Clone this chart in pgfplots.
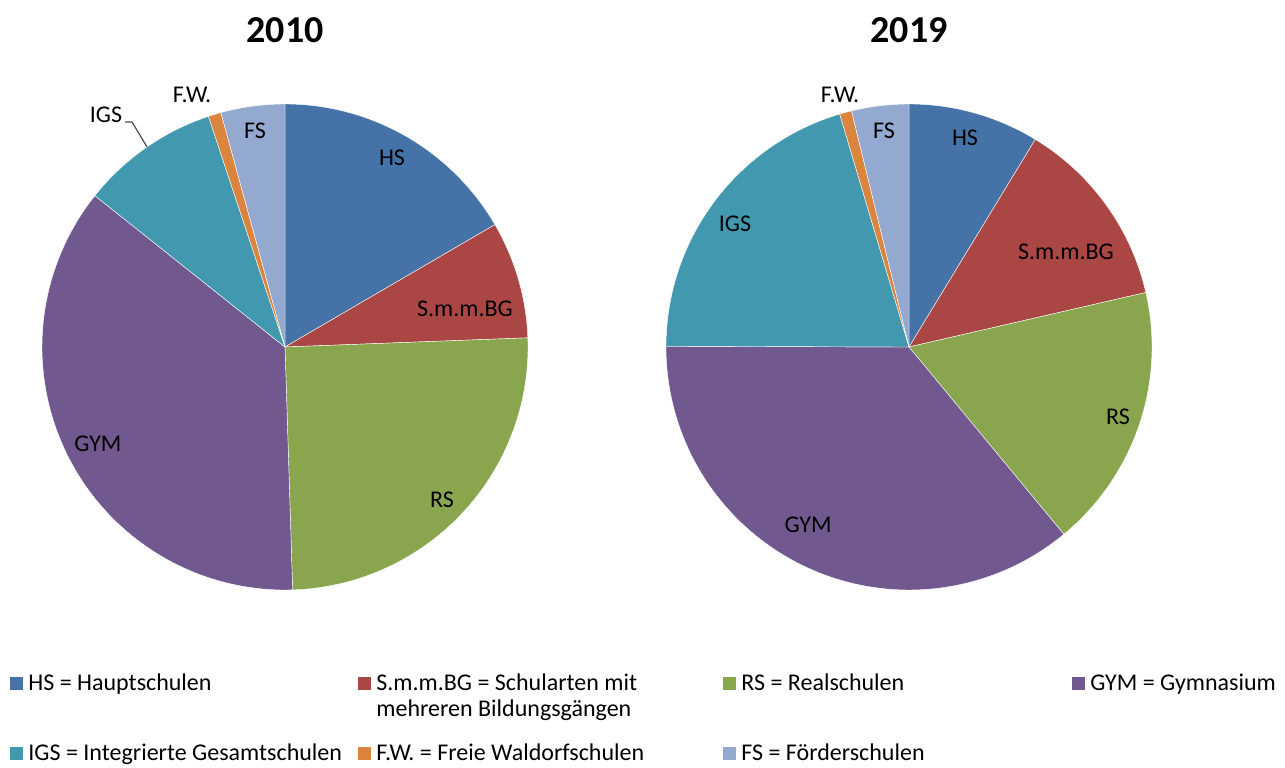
\documentclass[border=0pt]{standalone}
\usepackage{pgfplots}
\pgfplotsset{compat=1.18}
\usepackage{fontspec}
\setmainfont{Carlito}
\definecolor{cHS}{HTML}{4572A7}
\definecolor{cSM}{HTML}{AA4643}
\definecolor{cRS}{HTML}{89A54E}
\definecolor{cGY}{HTML}{71588F}
\definecolor{cIG}{HTML}{4198AF}
\definecolor{cFW}{HTML}{DB843D}
\definecolor{cFS}{HTML}{93A9CF}
% slice: centre x (px), start %, end % (cumulative, clockwise from 12 o'clock), colour
\newcommand{\pieslice}[4]{%
  \pgfmathsetmacro\angA{90-3.6*#3}%
  \pgfmathsetmacro\angB{90-3.6*#2}%
  \edef\doslice{\noexpand\addplot[draw=white, line width=0.2pt, fill=#4, domain=\angA:\angB, samples=90]
    ({#1+243*cos(x)}, {420+243*sin(x)}) -- (axis cs:#1,420) -- cycle;}%
  \doslice
}
\tikzset{lbl/.style={font=\fontsize{12}{14}\selectfont, text=black, inner sep=0pt},
         leg/.style={font=\fontsize{12}{14}\selectfont, text=black, inner sep=0pt, anchor=base west}}
\begin{document}
\begin{tikzpicture}
\begin{axis}[scale only axis, width=642.5pt, height=383.5pt,
  xmin=0, xmax=1285, ymin=0, ymax=767, hide axis, clip=false]
\path (axis cs:0,0) (axis cs:1285,767);
% 2010: HS 16.6, S.m.m.BG 7.8, RS 25.1, GYM 36.2, IGS 9.2, F.W. 0.85, FS 4.25
\pieslice{285}{0}{16.6}{cHS}
\pieslice{285}{16.6}{24.4}{cSM}
\pieslice{285}{24.4}{49.5}{cRS}
\pieslice{285}{49.5}{85.7}{cGY}
\pieslice{285}{85.7}{94.9}{cIG}
\pieslice{285}{94.9}{95.75}{cFW}
\pieslice{285}{95.75}{100}{cFS}
% 2019: HS 8.7, S.m.m.BG 12.7, RS 17.6, GYM 36.05, IGS 20.35, F.W. 0.8, FS 3.8
\pieslice{909}{0}{8.7}{cHS}
\pieslice{909}{8.7}{21.4}{cSM}
\pieslice{909}{21.4}{39.0}{cRS}
\pieslice{909}{39.0}{75.05}{cGY}
\pieslice{909}{75.05}{95.4}{cIG}
\pieslice{909}{95.4}{96.2}{cFW}
\pieslice{909}{96.2}{100}{cFS}
% titles
\node[font=\fontsize{19}{22}\selectfont\bfseries] at (axis cs:285,737) {2010};
\node[font=\fontsize{19}{22}\selectfont\bfseries] at (axis cs:909,737) {2019};
% labels 2010
\node[lbl] at (axis cs:392,609) {HS};
\node[lbl] at (axis cs:465,458) {S.m.m.BG};
\node[lbl] at (axis cs:442,267) {RS};
\node[lbl] at (axis cs:98,323) {GYM};
\node[lbl] at (axis cs:106,652) {IGS};
\node[lbl] at (axis cs:192,672) {F.W.};
\node[lbl] at (axis cs:255,636) {FS};
\draw[black!70, line width=0.6pt] (axis cs:125,645) -- (axis cs:132,645) -- (axis cs:147,620);
% labels 2019
\node[lbl] at (axis cs:965,629) {HS};
\node[lbl] at (axis cs:1066,515) {S.m.m.BG};
\node[lbl] at (axis cs:1118,350) {RS};
\node[lbl] at (axis cs:808,242) {GYM};
\node[lbl] at (axis cs:735,543) {IGS};
\node[lbl] at (axis cs:840,672) {F.W.};
\node[lbl] at (axis cs:884,636) {FS};
% legend
\fill[cHS] (axis cs:10,77) rectangle (axis cs:23,90);
\node[leg] at (axis cs:28,77) {HS = Hauptschulen};
\fill[cSM] (axis cs:358,77) rectangle (axis cs:371,90);
\node[leg] at (axis cs:376,77) {S.m.m.BG = Schularten mit};
\node[leg] at (axis cs:376,51) {mehreren Bildungsgängen};
\fill[cRS] (axis cs:723,77) rectangle (axis cs:736,90);
\node[leg] at (axis cs:741,77) {RS = Realschulen};
\fill[cGY] (axis cs:1072,77) rectangle (axis cs:1085,90);
\node[leg] at (axis cs:1090,77) {GYM = Gymnasium};
\fill[cIG] (axis cs:10,7) rectangle (axis cs:23,20);
\node[leg] at (axis cs:28,7) {IGS = Integrierte Gesamtschulen};
\fill[cFW] (axis cs:358,7) rectangle (axis cs:371,20);
\node[leg] at (axis cs:376,7) {F.W. = Freie Waldorfschulen};
\fill[cFS] (axis cs:723,7) rectangle (axis cs:736,20);
\node[leg] at (axis cs:741,7) {FS = Förderschulen};
\end{axis}
\end{tikzpicture}
\end{document}
